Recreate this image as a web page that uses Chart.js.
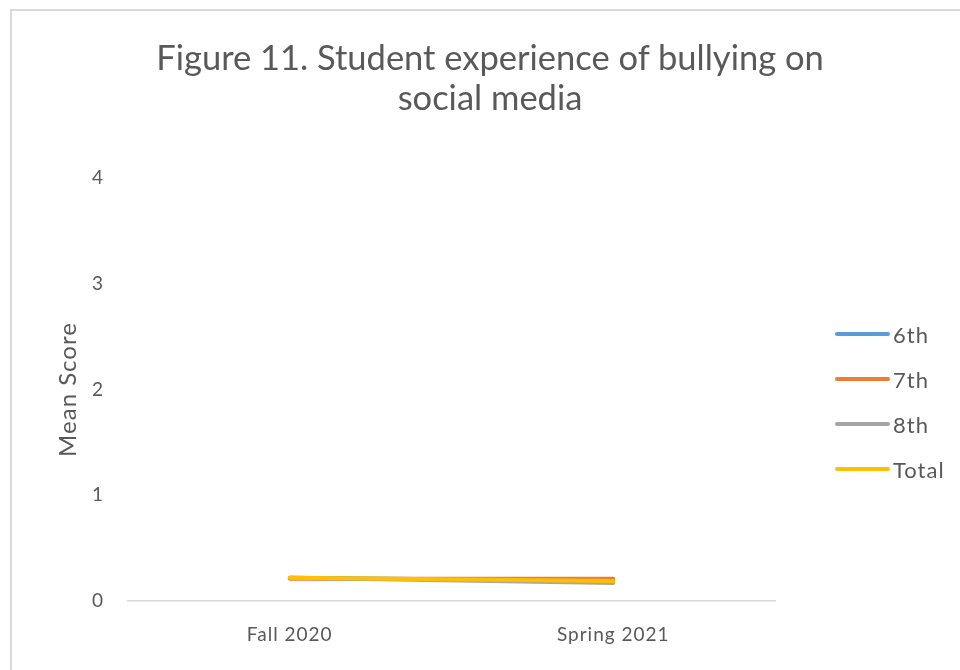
<!DOCTYPE html>
<html>
<head>
<meta charset="utf-8">
<script src="https://cdn.jsdelivr.net/npm/chart.js@4/dist/chart.umd.min.js"></script>
<style>
  html, body { margin: 0; padding: 0; background: #fff; }
  #wrap { position: relative; width: 960px; height: 670px; overflow: hidden; }
  #frame { position: absolute; left: 10px; top: 9px; right: -5px; bottom: -5px;
           border-left: 2px solid #d9d9d9; border-top: 2px solid #d9d9d9; pointer-events: none; }
  #title { position: absolute; left: 140px; width: 700px; top: 37px; text-align: center;
           font-family: Lato, sans-serif; font-size: 34.5px; line-height: 40px; color: #595959; }
  #legend { position: absolute; left: 835px; top: 0; font-family: Lato, sans-serif; font-size: 22px;
            letter-spacing: 1px; color: #595959; }
  #legend .item { position: absolute; left: 0; height: 24px; display: flex; align-items: center; white-space: nowrap; }
  #legend .swatch { width: 55px; height: 4px; border-radius: 2px; margin-right: 3px; }
</style>
</head>
<body>
<div id="wrap">
  <canvas id="chart" width="960" height="670"></canvas>
  <div id="frame"></div>
  <div id="title">Figure 11. Student experience of bullying on<br>social media</div>
  <div id="legend"></div>
</div>
<script>
const categories = ['Fall 2020', 'Spring 2021'];
const grade6 = [0.22, 0.19];
const grade7 = [0.21, 0.21];
const grade8 = [0.22, 0.17];
const total = [0.22, 0.19];
const yTicks = [0, 1, 2, 3, 4];

const seriesNames = ['6th', '7th', '8th', 'Total'];
const seriesColors = ['#5b9bd5', '#ed7d31', '#a5a5a5', '#ffc000'];
const seriesData = [grade6, grade7, grade8, total];

const textColor = '#595959';
const fontFamily = 'Lato, sans-serif';

// Total sits on top, like in the original
const datasets = seriesNames.map((name, i) => ({
    label: name,
    data: seriesData[i],
    borderColor: seriesColors[i],
    backgroundColor: seriesColors[i],
    borderWidth: 4,
    borderCapStyle: 'round',
    pointRadius: 0,
    tension: 0,
    order: seriesNames.length - 1 - i
}));

// the original text is a bit spaced out
const spacing = {
    id: 'spacing',
    beforeDraw: c => { c.ctx.letterSpacing = '1px'; }
};

const chart = new Chart(document.getElementById('chart'), {
    type: 'line',
    data: { labels: categories, datasets: datasets },
    plugins: [spacing],
    options: {
        responsive: false,
        animation: false,
        layout: { padding: { left: 0, right: 185, top: 178, bottom: 0 } },
        plugins: {
            legend: { display: false },
            tooltip: { enabled: false },
            title: { display: false }
        },
        scales: {
            x: {
                offset: true,
                grid: { display: false, drawTicks: false },
                border: { display: true, color: '#d9d9d9', width: 1.5 },
                ticks: { color: textColor, font: { family: fontFamily, size: 19 }, padding: 22 },
                afterFit: s => { s.height = 69; }
            },
            y: {
                min: 0,
                max: 4,
                afterBuildTicks: s => { s.ticks = yTicks.map(v => ({ value: v })); },
                grid: { display: false, drawTicks: false },
                border: { display: false },
                ticks: { color: textColor, font: { family: fontFamily, size: 19 }, padding: 24 },
                title: {
                    display: true,
                    text: 'Mean Score',
                    color: textColor,
                    font: { family: fontFamily, size: 24 },
                    padding: { top: 54, bottom: 0 }
                },
                afterFit: s => { s.width = 128; }
            }
        }
    }
});

// legend drawn as html next to the plot
const legendEl = document.getElementById('legend');
const legendMids = [334, 379, 424, 469];
chart.data.datasets.forEach((ds, i) => {
    const item = document.createElement('div');
    item.className = 'item';
    item.style.top = (legendMids[i] - 12) + 'px';
    item.innerHTML = '<span class="swatch" style="background:' + ds.borderColor + '"></span><span>' + ds.label + '</span>';
    legendEl.appendChild(item);
});
</script>
</body>
</html>
